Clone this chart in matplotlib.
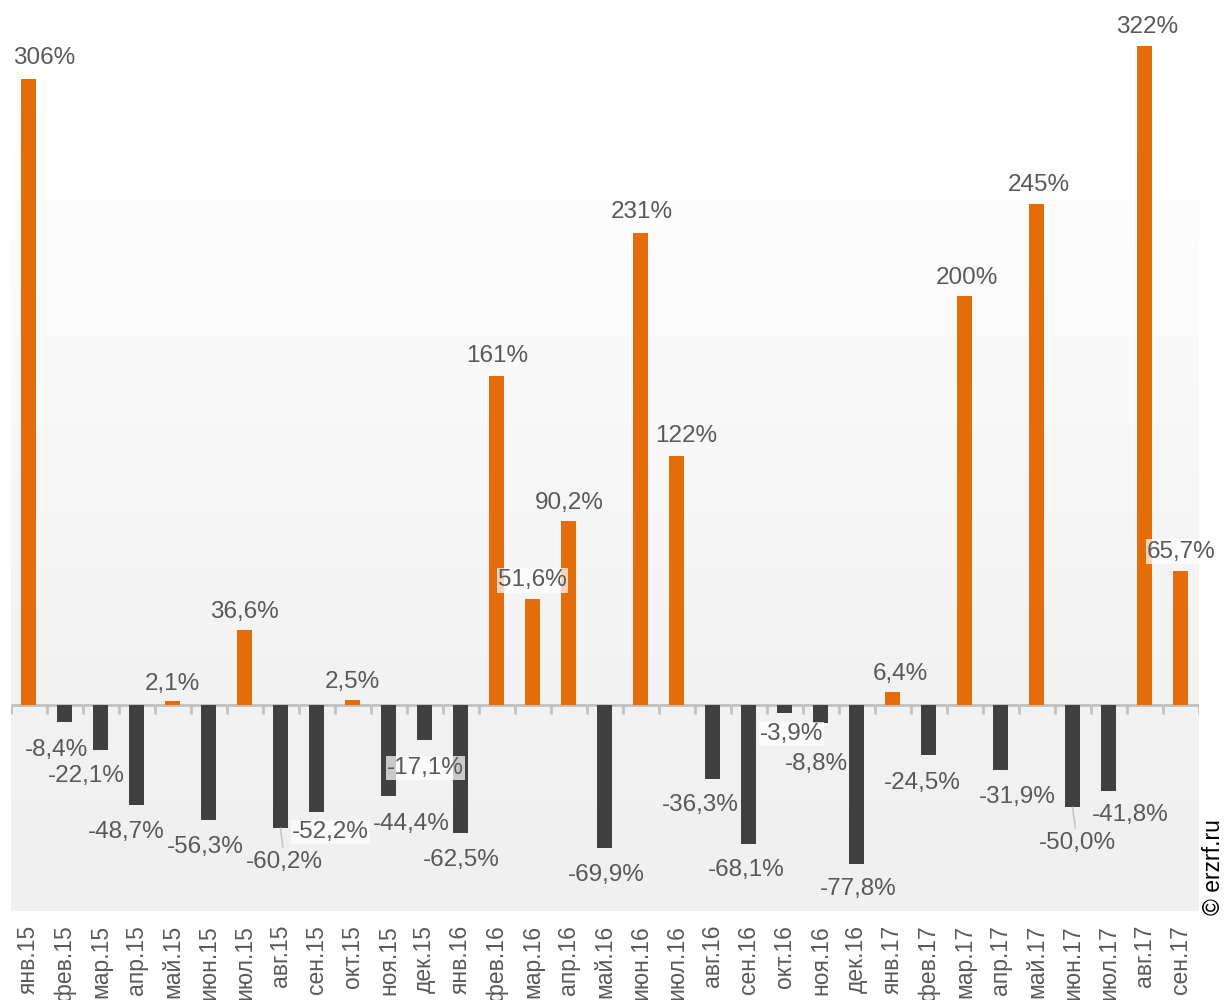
import numpy as np
import matplotlib
matplotlib.use("Agg")
import matplotlib.pyplot as plt
from matplotlib.colors import LinearSegmentedColormap

plt.rcParams["font.family"] = ["Liberation Sans", "DejaVu Sans"]

# ==============================
# DATA
# ==============================

months = ["янв.15", "фев.15", "мар.15", "апр.15", "май.15", "июн.15", "июл.15",
          "авг.15", "сен.15", "окт.15", "ноя.15", "дек.15", "янв.16", "фев.16",
          "мар.16", "апр.16", "май.16", "июн.16", "июл.16", "авг.16", "сен.16",
          "окт.16", "ноя.16", "дек.16", "янв.17", "фев.17", "мар.17", "апр.17",
          "май.17", "июн.17", "июл.17", "авг.17", "сен.17"]

change = [306, -8.4, -22.1, -48.7, 2.1, -56.3, 36.6,
          -60.2, -52.2, 2.5, -44.4, -17.1, -62.5, 161,
          51.6, 90.2, -69.9, 231, 122, -36.3, -68.1,
          -3.9, -8.8, -77.8, 6.4, -24.5, 200, -31.9,
          245, -50.0, -41.8, 322, 65.7]

# label placement (pixel offsets from bar end, y down)
label_dx = [16, -8, -14, -10, 0, -3, 0, 4, 14, 0, 23, 1, 1, 1,
            0, 1, 2, 1, 10, -12, -2, 7, -4, 2, 8, -6, 2, 17,
            2, 5, 22, 3, 1]
label_dy = [-23, 26, 24, 25, -19, 25, -20, 32, 18, -20, 26, 26, 25, -22,
            -21, -20, 25, -23, -21, 24, 24, 19, 39, 23, -20, 26, -20, 25,
            -21, 34, 22, -21, -21]
boxed = [8, 11, 14, 21, 32]
leader = [7, 29]

ORANGE = "#e46c0a"
DARK = "#404040"
TEXT = "#595959"

# ==============================
# FIGURE
# ==============================

fig = plt.figure(figsize=(12.26, 10), dpi=100)
ax = fig.add_axes([10.5 / 1226, 0.089, 1188 / 1226, 0.911])
ax.set_xlim(-0.5, len(months) - 0.5)
ax.set_ylim(-100.7, 344.7)

# background gradient
cmap = LinearSegmentedColormap.from_list(
    "bg", [(0, "#f0f0f0"), (0.26, "#f2f2f2"), (1, "#ffffff")])
grad = np.linspace(0, 1, 256).reshape(-1, 1)
ax.imshow(grad, extent=[-0.5, len(months) - 0.5, -100.7, 292], origin="lower",
          aspect="auto", cmap=cmap, zorder=0)

x = np.arange(len(months))
colors = [ORANGE if v > 0 else DARK for v in change]
ax.bar(x, change, width=0.39, color=colors, zorder=3, clip_on=False)

# zero axis with tick marks
ax.axhline(0, color="#c0c0c0", lw=2, zorder=2)
ax.vlines(np.arange(len(months) + 1) - 0.5, -4.2, 0, color="#c0c0c0", lw=2, zorder=2)

for i, v in enumerate(change):
    txt = f"{v:.1f}%".replace(".", ",") if abs(v) < 100 else f"{v:.0f}%"
    kw = {}
    if i in boxed:
        kw["bbox"] = dict(boxstyle="square,pad=0.05", fc="white", ec="none", alpha=0.72)
    if i in leader:
        kw["arrowprops"] = dict(arrowstyle="-", color="#c8c8c8", lw=1.2,
                                shrinkA=1, shrinkB=0)
    ax.annotate(txt, xy=(i, v), xytext=(label_dx[i], -label_dy[i] - 2),
                textcoords="offset pixels", ha="center", va="center",
                fontsize=17.5, color=TEXT, zorder=5, annotation_clip=False, **kw)

ax.set_xticks(x)
ax.set_xticklabels(months, rotation=90, fontsize=16.5, color=TEXT, va="top")
ax.tick_params(axis="x", length=0, pad=10)
ax.set_yticks([])
for s in ax.spines.values():
    s.set_visible(False)

fig.text(1214 / 1226, 0.133, "© erzrf.ru", rotation=90, ha="center", va="center",
         fontsize=16.5, color="black")

fig.savefig("out.png", dpi=100)
